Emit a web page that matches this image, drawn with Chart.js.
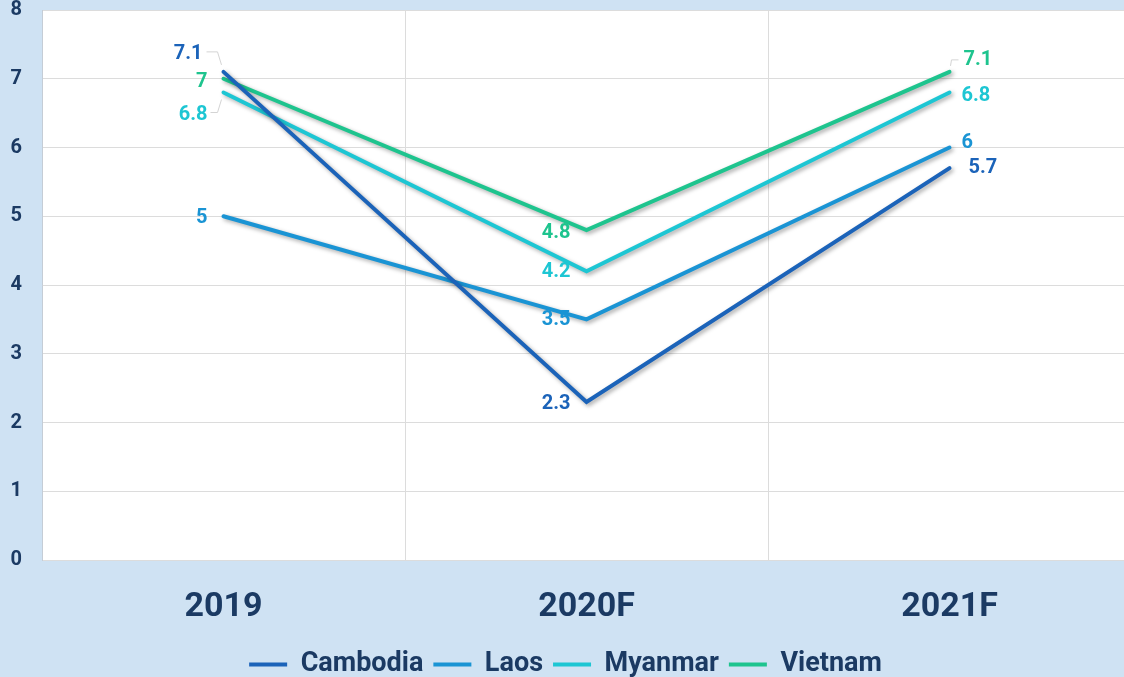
<!DOCTYPE html>
<html>
<head>
<meta charset="utf-8">
<script src="https://cdn.jsdelivr.net/npm/chart.js@4.4.1/dist/chart.umd.min.js"></script>
<style>
  html, body { margin: 0; padding: 0; overflow: hidden; background: #cfe2f3; }
  #wrap { width: 1131px; height: 677px; }
</style>
</head>
<body>
<div id="wrap"><canvas id="c"></canvas></div>
<script>
const years = ['2019', '2020F', '2021F'];
const cambodia = [7.1, 2.3, 5.7];
const laos = [5, 3.5, 6];
const myanmar = [6.8, 4.2, 6.8];
const vietnam = [7, 4.8, 7.1];
const yTicks = [0, 1, 2, 3, 4, 5, 6, 7, 8];

const navy = '#1b3a63';
const FONT = 'Roboto, "DejaVu Sans Condensed", sans-serif';

// label offsets [dx, dy, align] per dataset per point
const labelPos = [
  [[-21, -18, 'right'], [-16, 2, 'right'], [19, 0, 'left']],
  [[-16, 2, 'right'], [-16, 1, 'right'], [12, -5, 'left']],
  [[-16, 22, 'right'], [-16, 1, 'right'], [12, 3, 'left']],
  [[-16, 3, 'right'], [-16, 3, 'right'], [14, -12, 'left']]
];

const plotBg = {
  id: 'plotBg',
  beforeDraw(chart) {
    const { ctx, chartArea: a } = chart;
    ctx.save();
    ctx.fillStyle = '#ffffff';
    ctx.fillRect(a.left, a.top, a.right - a.left, a.bottom - a.top);
    ctx.restore();
  }
};

const shadow = {
  id: 'shadow',
  beforeDatasetDraw(chart) {
    const ctx = chart.ctx;
    ctx.save();
    ctx.shadowColor = 'rgba(0,0,0,0.35)';
    ctx.shadowBlur = 4;
    ctx.shadowOffsetX = 2;
    ctx.shadowOffsetY = 2;
  },
  afterDatasetDraw(chart) {
    chart.ctx.restore();
  }
};

const valueLabels = {
  id: 'valueLabels',
  afterDatasetsDraw(chart) {
    const ctx = chart.ctx;
    ctx.save();
    ctx.font = 'bold 20px ' + FONT;
    ctx.textBaseline = 'middle';
    chart.data.datasets.forEach((ds, i) => {
      const meta = chart.getDatasetMeta(i);
      meta.data.forEach((pt, j) => {
        const p = labelPos[i][j];
        ctx.fillStyle = ds.borderColor;
        ctx.textAlign = p[2];
        ctx.fillText(String(ds.data[j]), pt.x + p[0], pt.y + p[1]);
      });
    });
    // leader lines
    ctx.strokeStyle = '#d4d4d4';
    ctx.lineWidth = 1;
    const c0 = chart.getDatasetMeta(0).data[0];
    const m0 = chart.getDatasetMeta(2).data[0];
    const v2 = chart.getDatasetMeta(3).data[2];
    ctx.beginPath();
    ctx.moveTo(c0.x - 17, c0.y - 20); ctx.lineTo(c0.x - 6, c0.y - 20); ctx.lineTo(c0.x - 2, c0.y - 7);
    ctx.moveTo(m0.x - 13, m0.y + 20); ctx.lineTo(m0.x - 6, m0.y + 20); ctx.lineTo(m0.x - 2, m0.y + 7);
    ctx.moveTo(v2.x + 1, v2.y - 6); ctx.lineTo(v2.x + 2, v2.y - 12); ctx.lineTo(v2.x + 9, v2.y - 12);
    ctx.stroke();
    ctx.restore();
  }
};

function series(label, data, color) {
  return {
    label, data,
    borderColor: color, backgroundColor: color,
    borderWidth: 4, pointRadius: 0, tension: 0,
    borderCapStyle: 'round', borderJoinStyle: 'miter'
  };
}

new Chart(document.getElementById('c'), {
  type: 'line',
  data: {
    labels: years,
    datasets: [
      series('Cambodia', cambodia, '#1b63b9'),
      series('Laos', laos, '#1a94d4'),
      series('Myanmar', myanmar, '#1dc6d3'),
      series('Vietnam', vietnam, '#1ec48e')
    ]
  },
  options: {
    responsive: true,
    maintainAspectRatio: false,
    animation: false,
    layout: { padding: { top: 10, right: 0, left: 0, bottom: -11 } },
    plugins: {
      tooltip: { enabled: false },
      legend: {
        position: 'bottom',
        labels: {
          color: navy,
          font: { family: FONT, size: 27, weight: 'bold' },
          boxWidth: 38, boxHeight: 4, padding: 10,
          generateLabels(chart) {
            return chart.data.datasets.map((ds, i) => ({
              text: ds.label, fillStyle: ds.borderColor, strokeStyle: ds.borderColor,
              lineWidth: 0, datasetIndex: i, fontColor: navy
            }));
          }
        }
      }
    },
    scales: {
      x: {
        offset: true,
        grid: { offset: true, color: '#dcdcdc', drawTicks: false },
        border: { display: false },
        ticks: {
          color: navy, padding: 27,
          font: { family: FONT, size: 34, weight: 'bold' }
        },
        afterFit(scale) {
          scale.height = 128 - scale.chart.legend.height;
          scale.paddingLeft = 0; scale.paddingRight = 0;
        }
      },
      y: {
        min: 0, max: 8,
        afterBuildTicks(scale) { scale.ticks = yTicks.map(v => ({ value: v })); },
        grid: { color: '#dcdcdc', drawTicks: false },
        border: { display: true, color: '#c5cdd6' },
        ticks: {
          color: navy, padding: 20,
          font: { family: FONT, size: 20, weight: 'bold' }
        },
        afterFit(scale) {
          scale.width = 42;
          scale.paddingTop = 0; scale.paddingBottom = 0;
        }
      }
    }
  },
  plugins: [plotBg, shadow, valueLabels]
});
</script>
</body>
</html>
